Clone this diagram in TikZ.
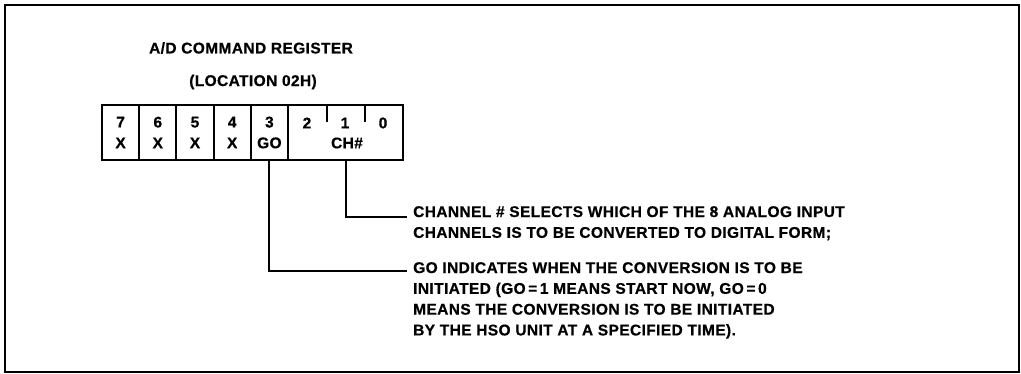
\documentclass[tikz,border=0pt]{standalone}
\usepackage{fontspec}
\setmainfont{Liberation Sans}[LetterSpace=2.5, BoldFeatures={FakeBold=0.6}]
\usetikzlibrary{positioning}
\usetikzlibrary{calc}

\begin{document}
\begin{tikzpicture}[x=1pt, y=-1pt,
    every node/.style={font=\fontsize{15.5}{20.8}\selectfont\bfseries},
    cell/.style={draw, line width=2pt, minimum height=55pt, inner sep=0pt, align=center},
    wire/.style={line width=2pt},
    desc/.style={anchor=north west, align=left, inner sep=0pt}]
    \useasboundingbox (0,0) rectangle (1021,374);
    \draw[line width=2.2pt] (5,5) rectangle (1019,372);

    \node (title) at (251,48) {A/D COMMAND REGISTER};
    \node (loc) at (253,82) {(LOCATION 02H)};

    % bits 7..3
    \foreach \i/\w [count=\k from 0] in {7/X, 6/X, 5/X, 4/X, 3/GO} {
        \node[cell, minimum width=37.2pt] (b\i) at (120.6+37.2*\k, 132.5) {\i\\\w};
    }
    % bits 2..0
    \node[cell, minimum width=115pt] (chbits) at (345.5,132.5) {};
    \foreach \d/\x in {2/307, 1/345, 0/383}
        \node (ch\d) at (\x,123) {\d};
    \node (chname) at (347,143) {CH\#};
    \foreach \x in {327,365}
        \draw[wire] (\x,105) -- (\x,122);

    \node[desc] (chtext) at (413,206) {CHANNEL \# SELECTS WHICH OF THE 8 ANALOG INPUT\\
        CHANNELS IS TO BE CONVERTED TO DIGITAL FORM;};
    \node[desc] (gotext) at (413,262) {GO INDICATES WHEN THE CONVERSION IS TO BE\\
        INITIATED (GO\,=\,1 MEANS START NOW, GO\,=\,0\\
        MEANS THE CONVERSION IS TO BE INITIATED\\
        BY THE HSO UNIT AT A SPECIFIED TIME).};

    \draw[wire] (chbits.south) |- ([xshift=-6pt, yshift=-11pt]chtext.north west);
    \draw[wire] (b3.south) |- ([xshift=-6pt, yshift=-9pt]gotext.north west);
\end{tikzpicture}
\end{document}
